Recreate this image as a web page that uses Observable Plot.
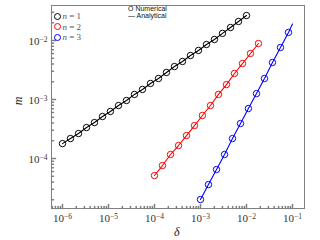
<!DOCTYPE html>
<html><head><meta charset="utf-8">
<script src="https://cdn.jsdelivr.net/npm/d3@7"></script>
<script src="https://cdn.jsdelivr.net/npm/@observablehq/plot@0.6"></script>
<style>
body{margin:0;background:#fff}
#wrap{position:relative;width:320px;height:240px;overflow:hidden}
.ax{position:absolute;font-family:"Liberation Serif",serif;font-style:italic;font-size:12px;color:#222;line-height:1}
.leg{position:absolute;font-family:"Liberation Serif",serif;font-size:9px;color:#555;line-height:10.5px;white-space:nowrap}
.leg .c{display:inline-block;width:5px;height:5px;border:1.1px solid;border-radius:50%;margin-right:1.5px;vertical-align:-0.5px}
.leg2{position:absolute;font-family:"Liberation Sans",sans-serif;font-size:7px;color:#111;line-height:7px;white-space:nowrap}
</style></head><body><div id="wrap"></div>
<script>
// n = 1
const delta1 = [1.00e-6,1.49e-6,2.23e-6,3.33e-6,4.96e-6,7.41e-6,1.10e-5,1.65e-5,2.46e-5,3.67e-5,5.48e-5,8.18e-5,1.22e-4,1.82e-4,2.72e-4,4.06e-4,6.06e-4,9.05e-4,1.35e-3,2.01e-3,3.01e-3,4.49e-3,6.70e-3,1.00e-2];
const m1 = [1.79e-4,2.18e-4,2.65e-4,3.35e-4,4.07e-4,5.15e-4,6.27e-4,7.91e-4,9.62e-4,1.22e-3,1.48e-3,1.87e-3,2.27e-3,2.87e-3,3.62e-3,4.41e-3,5.57e-3,6.78e-3,8.55e-3,1.04e-2,1.32e-2,1.66e-2,2.10e-2,2.65e-2];
// n = 2
const delta2 = [1.00e-4,1.49e-4,2.23e-4,3.33e-4,4.96e-4,7.41e-4,1.10e-3,1.65e-3,2.46e-3,3.67e-3,5.48e-3,8.18e-3,1.22e-2,1.82e-2];
const m2 = [5.15e-5,7.60e-5,1.17e-4,1.66e-4,2.45e-4,3.62e-4,5.36e-4,7.91e-4,1.22e-3,1.79e-3,2.76e-3,4.07e-3,6.02e-3,8.89e-3];
// n = 3
const delta3 = [1.00e-3,1.49e-3,2.23e-3,3.33e-3,4.96e-3,7.41e-3,1.10e-2,1.65e-2,2.46e-2,3.67e-2,5.48e-2,8.18e-2];
const m3 = [2.02e-5,3.62e-5,6.51e-5,1.17e-4,2.18e-4,3.92e-4,7.03e-4,1.26e-3,2.27e-3,4.24e-3,7.60e-3,1.37e-2];
// analytical curves
const aDelta1 = delta1, aM1 = m1;
const aDelta2 = delta2, aM2 = m2;
const aDelta3 = [1.00e-3,1.49e-3,2.23e-3,3.33e-3,4.96e-3,7.41e-3,1.10e-2,1.65e-2,2.46e-2,3.67e-2,5.48e-2,8.18e-2,1.00e-1];
const aM3 = [2.02e-5,3.62e-5,6.51e-5,1.17e-4,2.18e-4,3.92e-4,7.03e-4,1.26e-3,2.27e-3,4.24e-3,7.60e-3,1.37e-2,1.90e-2];

const seriesNames = ["n = 1","n = 2","n = 3"];
const seriesColors = ["#000000","#ff0000","#0000ff"];
const xTicks = [1e-6,1e-5,1e-4,1e-3,1e-2,1e-1];
const yTicks = [1e-4,1e-3,1e-2];
const xDomain = [10**-6.239, 10**-0.739];
const yDomain = [10**-4.847, 10**-1.407];

function minors(dom){
  const out=[];
  for(let d=-8; d<=0; d++) for(let k=2;k<=9;k++){const v=k*10**d; if(v>dom[0]&&v<dom[1]) out.push(v);}
  return out;
}
const xMinor = minors(xDomain), yMinor = minors(yDomain);
const fmt = d => "10^" + String(Math.round(Math.log10(d))).replace("-","−");

const num = [[delta1,m1],[delta2,m2],[delta3,m3]];
const ana = [[aDelta1,aM1],[aDelta2,aM2],[aDelta3,aM3]];
const tick = "#808080";
const stick = {draw(context, l){ context.moveTo(0,0); context.lineTo(0,-l); }};

const marks = [Plot.frame({stroke:tick, strokeWidth:1})];
ana.forEach(([dx,my],i)=>{
  marks.push(Plot.line(dx.map((d,j)=>({d, m:my[j]})), {x:"d", y:"m", stroke:seriesColors[i], strokeWidth:1.1}));
});
num.forEach(([dx,my],i)=>{
  marks.push(Plot.dot(dx.map((d,j)=>({d, m:my[j]})), {x:"d", y:"m", r:3.2, stroke:seriesColors[i], fill:"none", strokeWidth:1}));
});
marks.push(
  Plot.vector(xTicks, {x:d=>d, frameAnchor:"bottom", anchor:"start", rotate:0, length:4, shape:stick, stroke:tick}),
  Plot.vector(xMinor, {x:d=>d, frameAnchor:"bottom", anchor:"start", rotate:0, length:2, shape:stick, stroke:tick}),
  Plot.vector(yTicks, {y:d=>d, frameAnchor:"left", anchor:"start", rotate:90, length:4, shape:stick, stroke:tick}),
  Plot.vector(yMinor, {y:d=>d, frameAnchor:"left", anchor:"start", rotate:90, length:2, shape:stick, stroke:tick}),
  Plot.axisX({ticks:xTicks, tickSize:0, tickPadding:6, tickFormat:fmt, label:null, fill:"#333"}),
  Plot.axisY({ticks:yTicks, tickSize:0, tickPadding:4, tickFormat:fmt, label:null, fill:"#333", dy:1})
);

const chart = Plot.plot({
  width:320, height:240,
  marginLeft:51, marginRight:16, marginTop:5, marginBottom:32,
  style:{fontFamily:"Liberation Serif, serif", fontSize:"11px", background:"#fff"},
  x:{type:"log", domain:xDomain},
  y:{type:"log", domain:yDomain},
  marks
});

d3.select(chart).selectAll('g[aria-label="x-axis tick label"] text, g[aria-label="y-axis tick label"] text').each(function(){
  const t = this.textContent;
  if(!t.includes("^")) return;
  const [b,e] = t.split("^");
  this.textContent = "";
  const s = d3.select(this);
  s.append("tspan").text(b);
  s.append("tspan").attr("dy","-0.45em").attr("font-size","7.5px").text(e);
});

const wrap = document.getElementById("wrap");
wrap.appendChild(chart);

const ylab = document.createElement("div");
ylab.className="ax"; ylab.textContent="m";
ylab.style.cssText="left:14px;top:95px;transform:rotate(-90deg);transform-origin:center;";
wrap.appendChild(ylab);
const xlab = document.createElement("div");
xlab.className="ax"; xlab.textContent="δ";
xlab.style.cssText="left:174px;top:226px;";
wrap.appendChild(xlab);

const leg = document.createElement("div");
leg.className="leg"; leg.style.cssText="left:54px;top:11px;";
leg.innerHTML = seriesNames.map((n,i)=>`<div><span class="c" style="border-color:${seriesColors[i]}"></span><i>n</i>${n.slice(1)}</div>`).join("");
wrap.appendChild(leg);

const leg2 = document.createElement("div");
leg2.className="leg2"; leg2.style.cssText="left:128px;top:5px;";
leg2.innerHTML = "<div>O Numerical</div><div>— Analytical</div>";
wrap.appendChild(leg2);
</script>
</body></html>
